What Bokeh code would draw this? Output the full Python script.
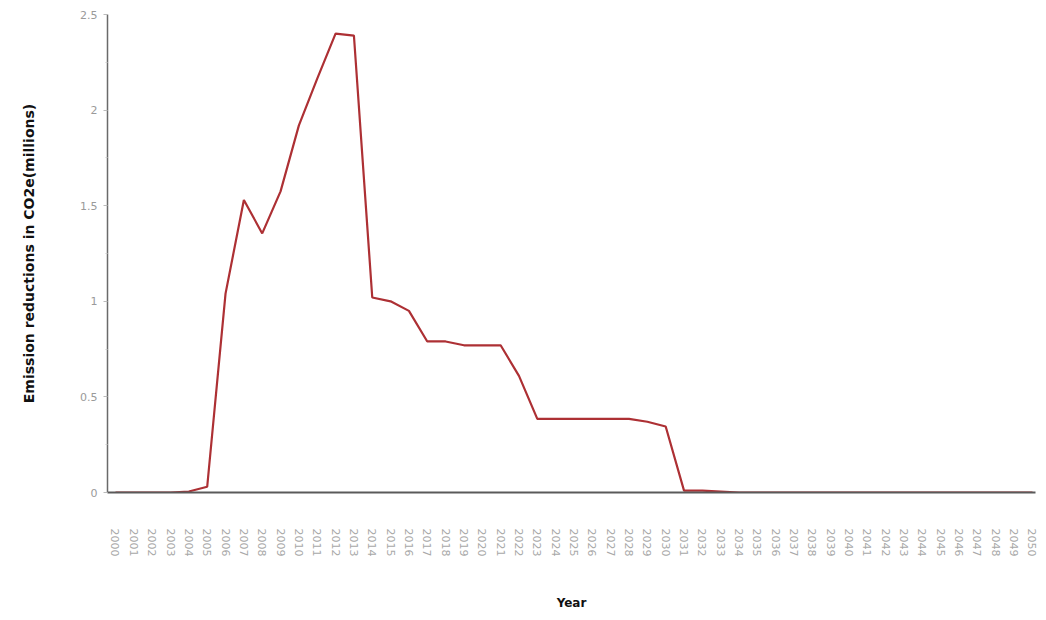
from bokeh.plotting import figure
from bokeh.models import Range1d, FixedTicker, ColumnDataSource
from bokeh.embed import file_html
from bokeh.resources import INLINE

years = [2000, 2001, 2002, 2003, 2004, 2005, 2006, 2007, 2008, 2009,
         2010, 2011, 2012, 2013, 2014, 2015, 2016, 2017, 2018, 2019,
         2020, 2021, 2022, 2023, 2024, 2025, 2026, 2027, 2028, 2029,
         2030, 2031, 2032, 2033, 2034, 2035, 2036, 2037, 2038, 2039,
         2040, 2041, 2042, 2043, 2044, 2045, 2046, 2047, 2048, 2049, 2050]

reductions = [0, 0, 0, 0, 0.005, 0.03, 1.04, 1.53, 1.355, 1.575,
              1.92, 2.165, 2.40, 2.39, 1.02, 1.00, 0.95, 0.79, 0.79, 0.77,
              0.77, 0.77, 0.61, 0.385, 0.385, 0.385, 0.385, 0.385, 0.385, 0.37,
              0.345, 0.01, 0.01, 0.005, 0, 0, 0, 0, 0, 0,
              0, 0, 0, 0, 0, 0, 0, 0, 0, 0, 0]

y_ticks = [0, 0.5, 1, 1.5, 2, 2.5]
y_tick_labels = ["0", "0.5", "1", "1.5", "2", "2.5"]

x_title = "Year"
y_title = "Emission reductions in CO2e(millions)"

src = ColumnDataSource(dict(year=years, value=reductions))

p = figure(width=1040, height=615, output_backend="svg", toolbar_location=None,
           x_range=Range1d(1999.564, 2050.164), y_range=Range1d(0, 2.5),
           min_border_left=107, min_border_right=5, min_border_top=14,
           min_border_bottom=123)
p.background_fill_color = "white"
p.border_fill_color = "white"
p.outline_line_color = None
p.xgrid.visible = False
p.ygrid.visible = False

p.line("year", "value", source=src, line_color="#ad3034", line_width=2.2)

# x axis
xa = p.xaxis[0]
xa.ticker = FixedTicker(ticks=years)
xa.major_label_orientation = "vertical"
xa.major_label_text_font = "DejaVu Sans"
xa.major_label_text_font_size = "11px"
xa.major_label_text_color = "#a8a8a8"
xa.major_tick_line_color = None
xa.minor_tick_line_color = None
xa.major_tick_out = 0
xa.major_label_standoff = 36
xa.axis_line_color = "#5a5a5a"
xa.axis_line_width = 2
xa.axis_label = x_title
xa.axis_label_text_font = "DejaVu Sans"
xa.axis_label_text_font_style = "bold"
xa.axis_label_text_font_size = "12px"
xa.axis_label_text_color = "#111111"
xa.axis_label_standoff = 37

# y axis
ya = p.yaxis[0]
ya.ticker = FixedTicker(ticks=y_ticks, minor_ticks=[0.25, 0.75, 1.25, 1.75, 2.25])
ya.major_label_overrides = {t: l for t, l in zip(y_ticks, y_tick_labels)}
ya.major_label_text_font = "DejaVu Sans"
ya.major_label_text_font_size = "11px"
ya.major_label_text_color = "#9a9a9a"
ya.major_tick_line_color = "#bbbbbb"
ya.major_tick_out = 4
ya.major_tick_in = 0
ya.minor_tick_line_color = "#cccccc"
ya.minor_tick_out = 2
ya.minor_tick_in = 0
ya.major_label_standoff = 6
ya.axis_line_color = "#6a6a6a"
ya.axis_line_width = 1.5
ya.axis_label = y_title
ya.axis_label_text_font = "DejaVu Sans"
ya.axis_label_text_font_style = "bold"
ya.axis_label_text_font_size = "14px"
ya.axis_label_text_color = "#111111"
ya.axis_label_standoff = 40

open("out.html", "w").write(file_html(p, INLINE))
